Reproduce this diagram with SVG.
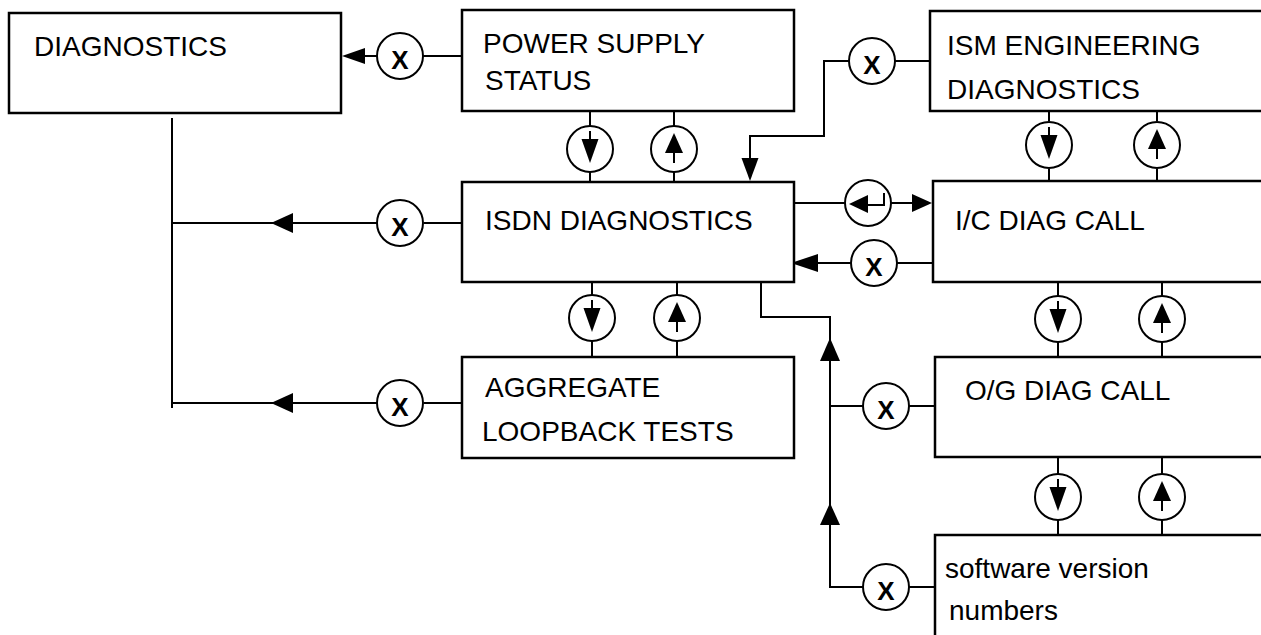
<svg xmlns="http://www.w3.org/2000/svg" xmlns:xlink="http://www.w3.org/1999/xlink" width="1261" height="635" viewBox="0 0 1261 635">
<style>
.box{fill:#fff;stroke:#000;stroke-width:2.5}
.ln{fill:none;stroke:#000;stroke-width:2}
.ah{fill:#000;stroke:none}
.lbl{font-family:"Liberation Sans",Arial,sans-serif;font-size:28px;fill:#000}
.xl{font-family:"Liberation Sans",Arial,sans-serif;font-size:26px;font-weight:bold;fill:#000;text-anchor:middle}
.cc{fill:#fff;stroke:#000;stroke-width:2}
</style>
<defs>
<g id="xc"><circle class="cc" r="23"/><text class="xl" x="0" y="13">X</text></g>
<g id="dn"><circle class="cc" r="23"/><line class="ln" x1="0" y1="-18" x2="0" y2="-10"/><polygon class="ah" points="-8.5,-10 8.5,-10 0,14"/></g>
<g id="up"><circle class="cc" r="23"/><line class="ln" x1="0" y1="4" x2="0" y2="14"/><polygon class="ah" points="-9,4 9,4 0,-16"/></g>
<g id="ret"><circle class="cc" r="23"/><polygon class="ah" points="-19,1 0,-8 0,10"/><polyline class="ln" points="0,2 16,2 16,-10"/></g>
</defs>
<g id="connectors">
<line class="ln" x1="423" y1="56" x2="462" y2="56"/>
<line class="ln" x1="377" y1="56" x2="362" y2="56"/>
<polygon class="ah" points="342,56 365,48 365,64"/>
<line class="ln" x1="590" y1="111" x2="590" y2="126"/>
<line class="ln" x1="590" y1="172" x2="590" y2="182"/>
<line class="ln" x1="674" y1="111" x2="674" y2="126"/>
<line class="ln" x1="674" y1="172" x2="674" y2="182"/>
<line class="ln" x1="895" y1="61" x2="930" y2="61"/>
<polyline class="ln" points="849,61 824,61 824,136 750,136 750,160"/>
<polygon class="ah" points="741.5,158 758.5,158 750,181"/>
<line class="ln" x1="1049" y1="111" x2="1049" y2="121"/>
<line class="ln" x1="1049" y1="169" x2="1049" y2="181"/>
<line class="ln" x1="1157" y1="111" x2="1157" y2="121"/>
<line class="ln" x1="1157" y1="169" x2="1157" y2="181"/>
<line class="ln" x1="794" y1="203" x2="845" y2="203"/>
<line class="ln" x1="891" y1="203" x2="914" y2="203"/>
<polygon class="ah" points="912,194 912,212 932,203"/>
<line class="ln" x1="933" y1="263" x2="897" y2="263"/>
<line class="ln" x1="851" y1="263" x2="815" y2="263"/>
<polygon class="ah" points="818,254 818,272 791,263"/>
<line class="ln" x1="462" y1="223" x2="424" y2="223"/>
<line class="ln" x1="377" y1="223" x2="172" y2="223"/>
<polygon class="ah" points="271,223 293,213 293,233"/>
<line class="ln" x1="462" y1="403" x2="424" y2="403"/>
<line class="ln" x1="377" y1="403" x2="172" y2="403"/>
<polygon class="ah" points="271,403 293,393 293,413"/>
<line class="ln" x1="172" y1="118" x2="172" y2="408"/>
<line class="ln" x1="592" y1="282" x2="592" y2="295"/>
<line class="ln" x1="592" y1="341" x2="592" y2="357"/>
<line class="ln" x1="677" y1="282" x2="677" y2="295"/>
<line class="ln" x1="677" y1="341" x2="677" y2="357"/>
<polyline class="ln" points="761,282 761,317 830,317 830,588"/>
<polygon class="ah" points="830,338 820,361 840,361"/>
<polygon class="ah" points="830,503 820,525 840,525"/>
<line class="ln" x1="830" y1="406" x2="863" y2="406"/>
<line class="ln" x1="909" y1="406" x2="935" y2="406"/>
<line class="ln" x1="830" y1="587" x2="863" y2="587"/>
<line class="ln" x1="909" y1="587" x2="935" y2="587"/>
<line class="ln" x1="1058" y1="282" x2="1058" y2="296"/>
<line class="ln" x1="1058" y1="342" x2="1058" y2="357"/>
<line class="ln" x1="1162" y1="282" x2="1162" y2="296"/>
<line class="ln" x1="1162" y1="342" x2="1162" y2="357"/>
<line class="ln" x1="1058" y1="457" x2="1058" y2="474"/>
<line class="ln" x1="1058" y1="520" x2="1058" y2="535"/>
<line class="ln" x1="1162" y1="457" x2="1162" y2="474"/>
<line class="ln" x1="1162" y1="520" x2="1162" y2="535"/>
<use xlink:href="#xc" x="400" y="56"/>
<use xlink:href="#dn" x="590" y="149"/>
<use xlink:href="#up" x="674" y="149"/>
<use xlink:href="#xc" x="872" y="61"/>
<use xlink:href="#dn" x="1049" y="145"/>
<use xlink:href="#up" x="1157" y="145"/>
<use xlink:href="#ret" x="868" y="203"/>
<use xlink:href="#xc" x="874" y="263"/>
<use xlink:href="#xc" x="400" y="223"/>
<use xlink:href="#xc" x="400" y="403"/>
<use xlink:href="#dn" x="592" y="318"/>
<use xlink:href="#up" x="677" y="318"/>
<use xlink:href="#xc" x="886" y="406"/>
<use xlink:href="#xc" x="886" y="587"/>
<use xlink:href="#dn" x="1058" y="319"/>
<use xlink:href="#up" x="1162" y="319"/>
<use xlink:href="#dn" x="1058" y="497"/>
<use xlink:href="#up" x="1162" y="497"/>
</g>
<g id="n-diagnostics"><rect class="box" x="9" y="13" width="332" height="100"/><text class="lbl" x="34" y="56">DIAGNOSTICS</text></g>
<g id="n-power"><rect class="box" x="462" y="10" width="332" height="101"/><text class="lbl" x="483" y="53">POWER SUPPLY</text><text class="lbl" x="485" y="90">STATUS</text></g>
<g id="n-isdn"><rect class="box" x="462" y="182" width="332" height="100"/><text class="lbl" x="485" y="230">ISDN DIAGNOSTICS</text></g>
<g id="n-aggregate"><rect class="box" x="462" y="357" width="332" height="101"/><text class="lbl" x="485" y="397">AGGREGATE</text><text class="lbl" x="482" y="441">LOOPBACK TESTS</text></g>
<g id="n-ism"><path class="box" d="M1265,11 H930 V111 H1265"/><text class="lbl" x="947" y="55">ISM ENGINEERING</text><text class="lbl" x="947" y="99">DIAGNOSTICS</text></g>
<g id="n-ic"><path class="box" d="M1265,181 H933 V282 H1265"/><text class="lbl" x="955" y="230">I/C DIAG CALL</text></g>
<g id="n-og"><path class="box" d="M1265,357 H935 V457 H1265"/><text class="lbl" x="965" y="400">O/G DIAG CALL</text></g>
<g id="n-sw"><path class="box" d="M1265,535 H935 V640"/><text class="lbl" x="945" y="578">software version</text><text class="lbl" x="949" y="620">numbers</text></g>
</svg>
